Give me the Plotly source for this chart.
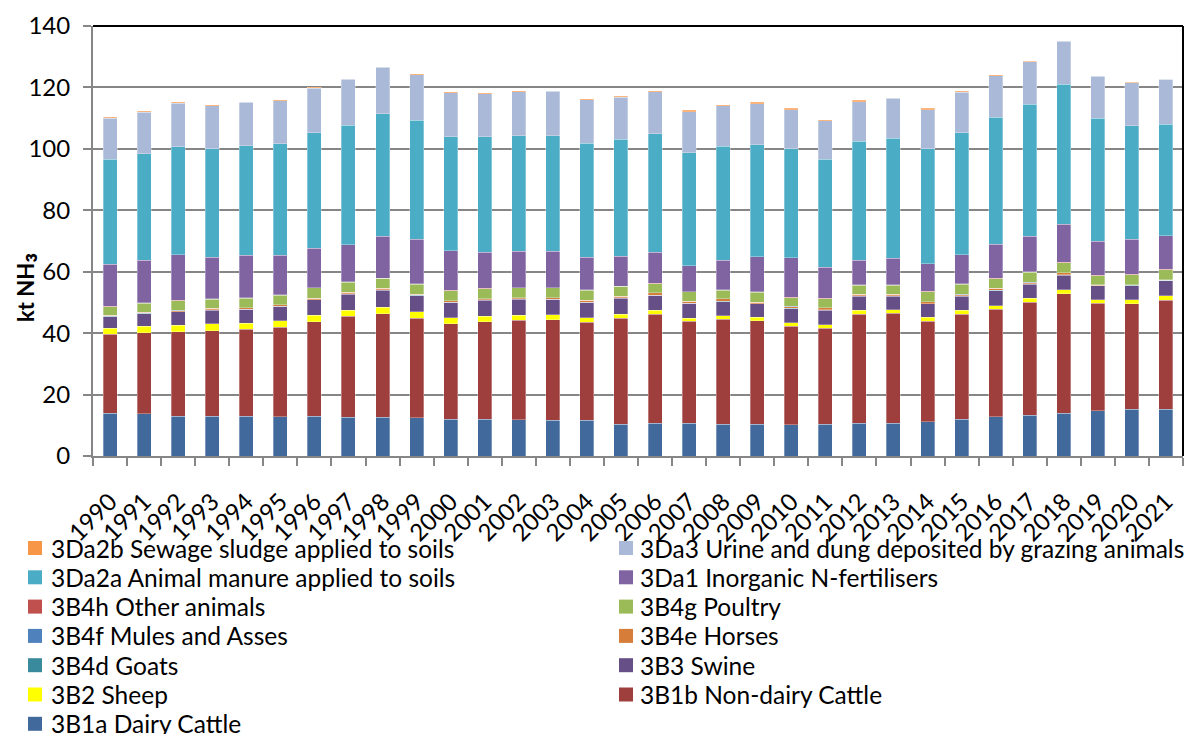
import plotly.graph_objects as go

years = [str(y) for y in range(1990, 2022)]

# NH3 emissions by source category, kt NH3 (stacked bottom to top)
dairy_cattle = [13.9, 13.7, 13.0, 13.0, 12.9, 12.8, 12.9, 12.6, 12.6, 12.4, 12.0, 12.0,
                11.8, 11.7, 11.7, 10.4, 10.7, 10.6, 10.4, 10.4, 10.1, 10.4, 10.6, 10.7,
                11.2, 12.0, 12.7, 13.2, 14.0, 14.8, 15.2, 15.2]
non_dairy_cattle = [25.7, 26.4, 27.5, 27.8, 28.3, 29.2, 30.8, 32.9, 33.7, 32.4, 31.1, 31.7,
                    32.4, 32.7, 31.8, 34.4, 35.4, 33.2, 34.2, 33.6, 32.1, 31.2, 35.5, 35.7,
                    32.6, 34.2, 35.1, 36.8, 38.9, 34.9, 34.3, 35.5]
sheep = [2.0, 2.1, 2.0, 2.2, 2.0, 2.0, 2.1, 2.0, 2.1, 2.1, 1.9, 1.8,
         1.6, 1.6, 1.5, 1.4, 1.4, 1.1, 1.1, 1.1, 1.2, 1.1, 1.3, 1.2,
         1.3, 1.2, 1.1, 1.3, 1.3, 1.2, 1.4, 1.4]
swine = [3.8, 4.1, 4.4, 4.5, 4.5, 4.7, 5.0, 5.2, 5.6, 5.3, 5.0, 5.2,
         5.3, 5.0, 5.0, 5.2, 4.8, 4.8, 4.6, 4.4, 4.6, 4.8, 4.6, 4.4,
         4.4, 4.6, 4.9, 4.7, 4.7, 4.5, 4.6, 5.0]
goats = [0.1] * 32
horses = [0.25, 0.35, 0.35, 0.45, 0.45, 0.45, 0.45, 0.45, 0.45, 0.35, 0.45, 0.35,
          0.35, 0.35, 0.55, 0.45, 0.75, 0.55, 0.75, 0.45, 0.55, 0.65, 0.55, 0.55,
          0.65, 0.45, 0.65, 0.35, 0.65, 0.15, 0.15, 0.1]
mules_asses = [0.05] * 32
poultry = [2.8, 2.9, 3.1, 3.0, 3.1, 3.1, 3.3, 3.3, 3.2, 3.3, 3.2, 3.2,
           3.1, 3.2, 3.3, 3.2, 2.9, 3.0, 2.8, 3.2, 2.9, 2.9, 2.9, 2.9,
           3.2, 3.3, 3.1, 3.4, 3.2, 3.0, 3.2, 3.3]
other_animals = [0.15] * 32
inorganic_n = [13.65, 13.85, 14.95, 13.45, 13.75, 12.75, 12.75, 11.95, 13.55, 14.45, 12.95, 11.85,
               11.75, 11.75, 10.55, 9.75, 10.05, 8.45, 9.65, 11.45, 12.85, 10.15, 8.05, 8.65,
               8.95, 9.55, 11.15, 11.45, 12.35, 11.05, 11.35, 10.95]
animal_manure = [34.2, 34.7, 35.1, 35.3, 35.7, 36.4, 37.6, 39.0, 39.9, 38.7, 37.0, 37.5,
                 37.7, 37.7, 37.1, 38.0, 38.6, 36.8, 37.0, 36.4, 35.4, 35.1, 38.7, 39.0,
                 37.4, 39.7, 41.3, 43.0, 45.6, 40.1, 37.1, 36.3]
urine_dung = [13.4, 13.6, 14.1, 14.1, 14.1, 14.0, 14.6, 14.9, 15.1, 14.9, 14.4, 14.1,
              14.3, 14.4, 14.2, 13.7, 13.7, 13.3, 13.2, 13.4, 12.8, 12.5, 12.9, 13.0,
              12.8, 13.1, 13.5, 13.9, 14.0, 13.7, 14.0, 14.6]
sewage_sludge = [0.3, 0.3, 0.3, 0.3, 0.3, 0.3, 0.3, 0.3, 0.3, 0.3, 0.3, 0.3,
                 0.3, 0.3, 0.3, 0.4, 0.4, 0.4, 0.4, 0.4, 0.4, 0.4, 0.4, 0.2,
                 0.4, 0.3, 0.3, 0.2, 0.2, 0.05, 0.05, 0.05]

series = [
    ("3B1a Dairy Cattle", dairy_cattle, "#41699C"),
    ("3B1b Non-dairy Cattle", non_dairy_cattle, "#9E3F3E"),
    ("3B2 Sheep", sheep, "#FFFF00"),
    ("3B3 Swine", swine, "#664F87"),
    ("3B4d Goats", goats, "#3A8A9E"),
    ("3B4e Horses", horses, "#D77D3A"),
    ("3B4f Mules and Asses", mules_asses, "#4F81BD"),
    ("3B4g Poultry", poultry, "#9BBB59"),
    ("3B4h Other animals", other_animals, "#C0504D"),
    ("3Da1 Inorganic N-fertilisers", inorganic_n, "#8064A2"),
    ("3Da2a Animal manure applied to soils", animal_manure, "#4BACC6"),
    ("3Da3 Urine and dung deposited by grazing animals", urine_dung, "#AAB9D7"),
    ("3Da2b Sewage sludge applied to soils", sewage_sludge, "#F79646"),
]

FONT = "Lato"
W, H = 1195, 734
ML, MR, MT, MB = 93, 12, 26, 278
PW, PH = W - ML - MR, H - MT - MB

fig = go.Figure()
for name, vals, color in series:
    fig.add_trace(go.Bar(
        x=years, y=vals, name=name, showlegend=False,
        marker=dict(color=color, line=dict(color="rgba(255,255,255,0.6)", width=0.5)),
    ))


def px_x(x):
    return (x - ML) / PW


def px_y(y):
    return (H - MB - y) / PH


# Plot frame: black top and right edges
shapes = [
    dict(type="line", xref="paper", yref="paper", x0=0, x1=1, y0=1, y1=1,
         line=dict(color="black", width=2)),
    dict(type="line", xref="paper", yref="paper", x0=1, x1=1, y0=0, y1=1,
         line=dict(color="black", width=2)),
]

# Y-axis title
annotations = [dict(
    xref="paper", yref="paper", x=px_x(22), y=px_y(288),
    xanchor="center", yanchor="middle", showarrow=False, textangle=-90,
    text='<b>kt NH<span style="font-size:30px">₃</span></b>',
    font=dict(family=FONT, size=22, color="black"),
)]

# Two-column key below the plot, top series first, filled row by row
key_cols = [(28, 49), (619, 638)]
row0, row_step, sq = 548, 29.3, 14
for i, (name, _, color) in enumerate(reversed(series)):
    sym_x, txt_x = key_cols[i % 2]
    cy = row0 + (i // 2) * row_step
    shapes.append(dict(
        type="rect", xref="paper", yref="paper",
        x0=px_x(sym_x), x1=px_x(sym_x + sq),
        y0=px_y(cy + sq / 2), y1=px_y(cy - sq / 2),
        fillcolor=color, line=dict(width=0),
    ))
    annotations.append(dict(
        xref="paper", yref="paper", x=px_x(txt_x), y=px_y(cy),
        xanchor="left", yanchor="middle", showarrow=False,
        text=name, font=dict(family=FONT, size=24.5, color="black"),
    ))

fig.update_layout(
    barmode="stack",
    bargap=0.59,
    width=W, height=H,
    margin=dict(l=ML, r=MR, t=MT, b=MB, autoexpand=False),
    paper_bgcolor="white",
    plot_bgcolor="white",
    font=dict(family=FONT, size=24, color="black"),
    showlegend=False,
    xaxis=dict(
        type="category",
        tickangle=-45,
        ticks="outside", ticklen=8, tickcolor="#868686", tickwidth=2,
        tickson="boundaries",
        showline=True, linecolor="#868686", linewidth=2,
        showgrid=False,
        tickfont=dict(family=FONT, size=24),
        ticklabelstandoff=20,
        automargin=False,
    ),
    yaxis=dict(
        range=[0, 140], dtick=20,
        ticks="outside", ticklen=8, tickcolor="#868686", tickwidth=2,
        showline=True, linecolor="#868686", linewidth=2,
        showgrid=True, gridcolor="#868686", gridwidth=2,
        zeroline=False,
        tickfont=dict(family=FONT, size=24),
        ticklabelstandoff=8,
        automargin=False,
    ),
    shapes=shapes,
    annotations=annotations,
)

fig.write_html("out.html")
